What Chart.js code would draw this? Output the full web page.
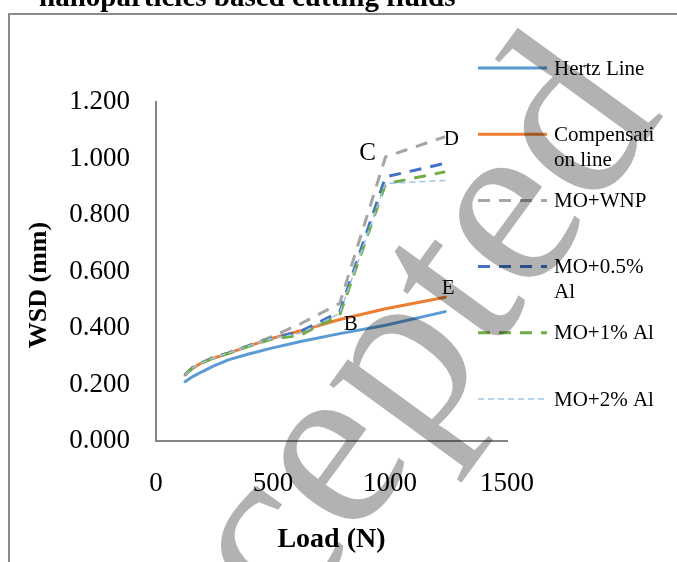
<!DOCTYPE html>
<html>
<head>
<meta charset="utf-8">
<script src="https://cdn.jsdelivr.net/npm/chart.js@4.4.1/dist/chart.umd.min.js"></script>
<style>
  html, body { margin: 0; padding: 0; background: #fff; }
  #wrap { width: 677px; height: 562px; }
</style>
</head>
<body>
<div id="wrap"><canvas id="chart"></canvas></div>
<script>
// four-ball test loads (N) and wear scar diameters (mm)
var loads = [124, 157, 196, 245, 309, 392, 490, 618, 785, 981, 1236];
var hertzLine = [0.210, 0.228, 0.245, 0.265, 0.287, 0.307, 0.328, 0.352, 0.380, 0.410, 0.458];
var compensationLine = [0.234, 0.258, 0.277, 0.293, 0.310, 0.335, 0.362, 0.390, 0.430, 0.468, 0.509];
var moWnp = [0.234, 0.261, 0.277, 0.296, 0.312, 0.337, 0.368, 0.415, 0.487, 1.006, 1.077];
var mo05Al = [0.233, 0.260, 0.277, 0.295, 0.311, 0.335, 0.362, 0.388, 0.457, 0.935, 0.983];
var mo1Al = [0.234, 0.260, 0.276, 0.295, 0.310, 0.334, 0.360, 0.375, 0.446, 0.910, 0.953];
var mo2Al = [0.233, 0.259, 0.277, 0.294, 0.311, 0.335, 0.362, 0.382, 0.452, 0.912, 0.922];

var seriesNames = ['Hertz Line', 'Compensation line', 'MO+WNP', 'MO+0.5% Al', 'MO+1% Al', 'MO+2% Al'];
var xTicks = [0, 500, 1000, 1500];
var yTicks = [0, 0.2, 0.4, 0.6, 0.8, 1.0, 1.2];

// letters marking points on the curves: [letter, series index, load index]
var pointMarks = [['B', 1, 8], ['C', 2, 9], ['D', 2, 10], ['E', 1, 10]];

var chartTitle = 'nanoparticles based cutting fluids';
var xTitle = 'Load (N)';
var yTitle = 'WSD (mm)';

var serif = "'Liberation Serif', 'Times New Roman', serif";
Chart.defaults.font.family = serif;
Chart.defaults.color = '#000';

function points(values) {
  return values.map(function (v, i) { return { x: loads[i], y: v }; });
}

// break a legend label into lines no wider than maxWidth
function wrapText(ctx, text, maxWidth) {
  var lines = [], line = '';
  text.split(' ').forEach(function (word) {
    var test = line ? line + ' ' + word : word;
    if (ctx.measureText(test).width <= maxWidth) { line = test; return; }
    if (line) lines.push(line);
    line = '';
    for (var k = 0; k < word.length; k++) {
      if (ctx.measureText(line + word[k]).width > maxWidth && line) { lines.push(line); line = ''; }
      line += word[k];
    }
  });
  if (line) lines.push(line);
  return lines;
}

var markOffsets = { B: [11, 5], C: [-18, -3], D: [6, 3], E: [3, -9] };

var extras = {
  id: 'extras',
  afterDraw: function (chart) {
    var ctx = chart.ctx, sx = chart.scales.x, sy = chart.scales.y;
    var sets = chart.data.datasets;
    ctx.save();

    // outer frame, open at right and bottom
    ctx.strokeStyle = '#8a8a8a';
    ctx.lineWidth = 2;
    ctx.beginPath();
    ctx.moveTo(9, 562); ctx.lineTo(9, 14); ctx.lineTo(677, 14);
    ctx.stroke();

    // title, mostly above the top edge
    ctx.fillStyle = '#000';
    ctx.font = 'bold 29px ' + serif;
    ctx.textAlign = 'left';
    ctx.textBaseline = 'alphabetic';
    ctx.fillText(chartTitle, 39, 6);

    // y axis title
    ctx.save();
    ctx.translate(39, 285);
    ctx.rotate(-Math.PI / 2);
    ctx.font = 'bold 26px ' + serif;
    ctx.textAlign = 'center';
    ctx.textBaseline = 'middle';
    ctx.fillText(yTitle, 0, 0);
    ctx.restore();

    // point letters
    ctx.textAlign = 'center';
    ctx.textBaseline = 'middle';
    pointMarks.forEach(function (m) {
      var p = sets[m[1]].data[m[2]];
      var off = markOffsets[m[0]];
      ctx.font = (m[0] === 'C' ? 25 : 21) + 'px ' + serif;
      ctx.fillText(m[0], sx.getPixelForValue(p.x) + off[0], sy.getPixelForValue(p.y) + off[1]);
    });

    // legend
    ctx.font = '21px ' + serif;
    ctx.textAlign = 'left';
    sets.forEach(function (ds, i) {
      var ly = 68 + i * 66.2;
      ctx.strokeStyle = ds.borderColor;
      ctx.lineWidth = ds.borderWidth;
      ctx.setLineDash(ds.borderDash || []);
      ctx.beginPath();
      ctx.moveTo(478, ly); ctx.lineTo(547, ly);
      ctx.stroke();
      ctx.setLineDash([]);
      wrapText(ctx, ds.label, 106).forEach(function (line, k) {
        ctx.fillText(line, 554, ly + 1 + k * 25);
      });
    });

    // watermark
    ctx.translate(665, 114);
    ctx.rotate(-54 * Math.PI / 180);
    ctx.font = '245px ' + serif;
    ctx.textAlign = 'right';
    ctx.textBaseline = 'alphabetic';
    ctx.fillStyle = 'rgba(0, 0, 0, 0.3)';
    ctx.fillText('Accepted', 0, 0);

    ctx.restore();
  }
};

function series(i, values, color, width, dash, order) {
  return {
    label: seriesNames[i],
    data: points(values),
    borderColor: color,
    borderWidth: width,
    borderDash: dash,
    borderCapStyle: dash.length ? 'butt' : 'round',
    borderJoinStyle: 'round',
    pointRadius: 0,
    pointHoverRadius: 0,
    tension: 0,
    fill: false,
    order: order
  };
}

new Chart(document.getElementById('chart'), {
  type: 'line',
  data: {
    datasets: [
      series(0, hertzLine, '#5B9BD5', 3, [], 6),
      series(1, compensationLine, '#ED7D31', 3, [], 5),
      series(2, moWnp, '#A5A5A5', 3, [12, 9], 4),
      series(3, mo05Al, '#4472C4', 3, [12, 9], 3),
      series(4, mo1Al, '#70AD47', 3, [12, 9], 2),
      series(5, mo2Al, '#9DC3E6', 1.5, [6, 4], 1)
    ]
  },
  options: {
    responsive: true,
    maintainAspectRatio: false,
    devicePixelRatio: 1,
    animation: false,
    layout: { padding: { left: 0, top: 102, right: 170, bottom: 0 } },
    plugins: {
      legend: { display: false },
      tooltip: { enabled: false }
    },
    scales: {
      x: {
        type: 'linear',
        min: 0,
        max: 1500,
        afterBuildTicks: function (axis) { axis.ticks = xTicks.map(function (v) { return { value: v }; }); },
        afterFit: function (axis) { axis.height = 121; },
        grid: { display: false, drawTicks: false },
        border: { display: true, color: '#868686', width: 2 },
        ticks: {
          font: { size: 27 },
          color: '#000',
          padding: 27,
          maxRotation: 0,
          callback: function (v) { return String(v); }
        },
        title: { display: true, text: xTitle, font: { size: 28, weight: 'bold' }, color: '#000', padding: { top: 0, bottom: 5 } }
      },
      y: {
        type: 'linear',
        min: 0,
        max: 1.2,
        afterBuildTicks: function (axis) { axis.ticks = yTicks.map(function (v) { return { value: v }; }); },
        afterFit: function (axis) { axis.width = 156; },
        grid: { display: false, drawTicks: false },
        border: { display: true, color: '#868686', width: 2 },
        ticks: {
          font: { size: 27 },
          color: '#000',
          padding: 26,
          callback: function (v) { return v.toFixed(3); }
        }
      }
    }
  },
  plugins: [extras]
});
</script>
</body>
</html>
